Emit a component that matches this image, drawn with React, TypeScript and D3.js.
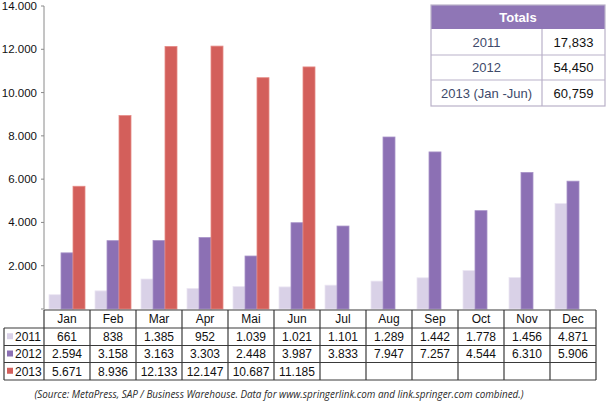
import React from "react";
import * as d3 from "d3";

const months = ["Jan", "Feb", "Mar", "Apr", "Mai", "Jun", "Jul", "Aug", "Sep", "Oct", "Nov", "Dec"];
const years = ["2011", "2012", "2013"];
const v2011 = [661, 838, 1385, 952, 1039, 1021, 1101, 1289, 1442, 1778, 1456, 4871];
const v2012 = [2594, 3158, 3163, 3303, 2448, 3987, 3833, 7947, 7257, 4544, 6310, 5906];
const v2013: (number | null)[] = [5671, 8936, 12133, 12147, 10687, 11185, null, null, null, null, null, null];
const yTicks = [2000, 4000, 6000, 8000, 10000, 12000, 14000];
const totalsLabels = ["2011", "2012", "2013 (Jan -Jun)"];
const totalsValues = ["17,833", "54,450", "60,759"];
const source = "(Source: MetaPress, SAP / Business Warehouse. Data for www.springerlink.com and link.springer.com combined.)";

const colors = ["#d9d1e7", "#8c70b4", "#d35f5b"];
const strokes = ["#ebe6f3", "#a893c8", "#e58a86"];

const fmt = (v: number) => d3.format(",")(v).replace(/,/g, ".");

export default function App() {
  const W = 609, H = 403;
  const x0 = 44, x1 = 596;
  const yZero = 309, yTop = 6;
  const x = d3.scaleBand<string>().domain(months).range([x0, x1]);
  const inner = d3.scaleBand<string>().domain(years).range([0, 36]);
  const y = d3.scaleLinear().domain([0, 14000]).range([yZero, yTop]);
  const series = [v2011, v2012, v2013];

  const tTop = 310;
  const rowH = [18, 17.5, 17, 17.5];
  const rowY = [tTop];
  rowH.forEach((h, i) => rowY.push(rowY[i] + h));
  const font = "Liberation Sans, Arial, sans-serif";

  const bx0 = 431, bx1 = 605, bxMid = 542;
  const bRows = [5, 29, 55, 80, 106];

  return (
    <svg width={W} height={H} style={{ position: "absolute", left: 0, top: 0, background: "#fff" }} fontFamily={font}>
      <line x1={x0} x2={x0} y1={yTop} y2={yZero} stroke="#8a8a8a" strokeWidth={1} />
      {[0, ...yTicks].map((t) => (
        <line key={"tk" + t} x1={x0 - 3} x2={x0} y1={y(t)} y2={y(t)} stroke="#8a8a8a" />
      ))}
      {yTicks.map((t) => (
        <text key={"tl" + t} x={37} y={y(t)} dy="0.35em" textAnchor="end" fontSize={11.5} fill="#111">
          {fmt(t)}
        </text>
      ))}
      {series.map((s, si) =>
        s.map((v, mi) =>
          v == null ? null : (
            <rect
              key={si + "-" + mi}
              x={(x(months[mi]) as number) + 5 + (inner(years[si]) as number)}
              y={y(v)}
              width={inner.bandwidth()}
              height={yZero - y(v)}
              fill={colors[si]}
              stroke={strokes[si]}
              strokeWidth={0.8}
            />
          )
        )
      )}
      <g stroke="#3a3a3a" strokeWidth={1.2} fill="none">
        <line x1={x0} x2={x1} y1={rowY[0]} y2={rowY[0]} />
        {rowY.slice(1).map((ry, i) => (
          <line key={"h" + i} x1={4} x2={x1} y1={ry} y2={ry} />
        ))}
        <line x1={4} x2={4} y1={rowY[1]} y2={rowY[4]} />
        {months.map((m, i) => (
          <line key={"v" + i} x1={x(m) as number} x2={x(m) as number} y1={rowY[0]} y2={rowY[4]} />
        ))}
        <line x1={x1} x2={x1} y1={rowY[0]} y2={rowY[4]} />
      </g>
      {months.map((m) => (
        <text key={"m" + m} x={(x(m) as number) + x.bandwidth() / 2} y={(rowY[0] + rowY[1]) / 2} dy="0.36em" textAnchor="middle" fontSize={12} fill="#111">
          {m}
        </text>
      ))}
      {series.map((s, si) => (
        <g key={"row" + si}>
          <rect x={7} y={(rowY[si + 1] + rowY[si + 2]) / 2 - 3.5} width={6} height={6} fill={colors[si]} />
          <text x={15} y={(rowY[si + 1] + rowY[si + 2]) / 2} dy="0.36em" fontSize={12} fill="#111">
            {years[si]}
          </text>
          {s.map((v, mi) =>
            v == null ? null : (
              <text key={mi} x={(x(months[mi]) as number) + x.bandwidth() / 2} y={(rowY[si + 1] + rowY[si + 2]) / 2} dy="0.36em" textAnchor="middle" fontSize={12} fill="#111">
                {fmt(v)}
              </text>
            )
          )}
        </g>
      ))}
      <rect x={bx0} y={bRows[0]} width={bx1 - bx0} height={bRows[1] - bRows[0]} fill="#8f76b6" />
      <text x={(bx0 + bx1) / 2} y={(bRows[0] + bRows[1]) / 2} dy="0.36em" textAnchor="middle" fontSize={13} fontWeight="bold" fill="#fff">
        Totals
      </text>
      <g stroke="#b9b1c9" strokeWidth={1.2} fill="none">
        <rect x={bx0} y={bRows[0]} width={bx1 - bx0} height={bRows[4] - bRows[0]} />
        {bRows.slice(2, 4).map((ry, i) => (
          <line key={"bh" + i} x1={bx0} x2={bx1} y1={ry} y2={ry} />
        ))}
        <line x1={bxMid} x2={bxMid} y1={bRows[1]} y2={bRows[4]} />
      </g>
      {totalsLabels.map((l, i) => (
        <g key={"tot" + i}>
          <text x={(bx0 + bxMid) / 2} y={(bRows[i + 1] + bRows[i + 2]) / 2} dy="0.36em" textAnchor="middle" fontSize={13} fill="#3e4a6a">
            {l}
          </text>
          <text x={(bxMid + bx1) / 2} y={(bRows[i + 1] + bRows[i + 2]) / 2} dy="0.36em" textAnchor="middle" fontSize={13} fill="#111">
            {totalsValues[i]}
          </text>
        </g>
      ))}
      <text x={279} y={395} dy="0.35em" textAnchor="middle" fontSize={9.9} fontStyle="italic" fill="#2a2a2a" fontFamily="Open Sans, DejaVu Sans, sans-serif">
        {source}
      </text>
    </svg>
  );
}
